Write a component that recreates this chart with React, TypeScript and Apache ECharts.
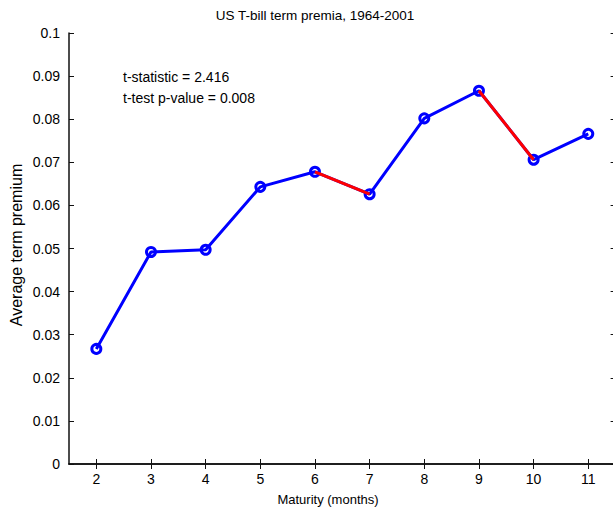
import React, { useEffect, useRef } from "react";
import * as echarts from "echarts";

const maturities = [2, 3, 4, 5, 6, 7, 8, 9, 10, 11];
const premia = [0.0267, 0.0492, 0.0497, 0.0643, 0.0678, 0.0626, 0.0802, 0.0866, 0.0706, 0.0766];
const redSegments = [
  [6, 7],
  [9, 10],
];
const titleText = "US T-bill term premia, 1964-2001";
const xName = "Maturity (months)";
const yName = "Average term premium";
const notes = ["t-statistic = 2.416", "t-test p-value = 0.008"];

const FONT = "'Liberation Sans', Arial, sans-serif";

export default function App() {
  const ref = useRef<HTMLDivElement>(null);
  useEffect(() => {
    if (!ref.current) return;
    const chart = echarts.init(ref.current, null, { renderer: "svg" });
    const pts = maturities.map((m, i) => [m, premia[i]]);
    const redSeries = redSegments.map(([a, b]) => ({
      type: "line",
      data: [
        [a, premia[maturities.indexOf(a)]],
        [b, premia[maturities.indexOf(b)]],
      ],
      symbol: "none",
      lineStyle: { color: "#ff0000", width: 3 },
      z: 5,
      silent: true,
    }));
    const axisLine = { show: true, lineStyle: { color: "#111", width: 1.5 } };
    const tickStyle = { show: true, inside: true, length: 5, lineStyle: { color: "#111", width: 1 } };
    chart.setOption({
      animation: false,
      backgroundColor: "#fff",
      grid: { left: 69, top: 33, bottom: 45, right: 0.4, containLabel: false },
      xAxis: [
        {
          type: "value",
          min: 1.5,
          max: 11.5,
          position: "bottom",
          axisLine,
          axisTick: { ...tickStyle, customValues: maturities },
          axisLabel: {
            customValues: maturities,
            margin: 8,
            color: "#000",
            fontSize: 14,
            fontFamily: FONT,
          },
          splitLine: { show: false },
        },
        {
          type: "value",
          min: 1.5,
          max: 11.5,
          position: "top",
          axisLine,
          axisTick: { ...tickStyle, customValues: maturities },
          axisLabel: { show: false, customValues: maturities },
          splitLine: { show: false },
        },
      ],
      yAxis: [
        {
          type: "value",
          min: 0,
          max: 0.1,
          interval: 0.01,
          position: "left",
          axisLine,
          axisTick: tickStyle,
          axisLabel: {
            margin: 9,
            color: "#000",
            fontSize: 14,
            fontFamily: FONT,
            formatter: (v: number) => String(Math.round(v * 100) / 100),
          },
          splitLine: { show: false },
        },
        {
          type: "value",
          min: 0,
          max: 0.1,
          interval: 0.01,
          position: "right",
          axisLine,
          axisTick: tickStyle,
          axisLabel: { show: false },
          splitLine: { show: false },
        },
      ],
      graphic: [
        {
          type: "text",
          x: 315,
          y: 15,
          style: {
            text: titleText,
            font: `13.5px ${FONT}`,
            fill: "#000",
            textAlign: "center",
            textVerticalAlign: "middle",
          },
        },
        {
          type: "text",
          x: 328,
          y: 499,
          style: {
            text: xName,
            font: `13px ${FONT}`,
            fill: "#000",
            textAlign: "center",
            textVerticalAlign: "middle",
          },
        },
        {
          type: "text",
          x: 16.5,
          y: 245,
          rotation: Math.PI / 2,
          style: {
            text: yName,
            font: `16px ${FONT}`,
            fill: "#000",
            textAlign: "center",
            textVerticalAlign: "middle",
          },
        },
        ...notes.map((t, i) => ({
          type: "text",
          x: 123,
          y: 77 + i * 21,
          style: {
            text: t,
            font: `14px ${FONT}`,
            fill: "#000",
            textAlign: "left",
            textVerticalAlign: "middle",
          },
        })),
      ],
      series: [
        {
          type: "line",
          data: pts,
          symbol: "circle",
          symbolSize: 9,
          itemStyle: { color: "transparent", borderColor: "#0000ff", borderWidth: 3 },
          lineStyle: { color: "#0000ff", width: 3 },
          z: 3,
          silent: true,
        },
        ...redSeries,
      ],
    });
    return () => chart.dispose();
  }, []);
  return (
    <div style={{ position: "fixed", left: 0, top: 0, width: 613, height: 509, overflow: "hidden", background: "#fff" }}>
      <div ref={ref} style={{ width: 616, height: 509 }} />
    </div>
  );
}
